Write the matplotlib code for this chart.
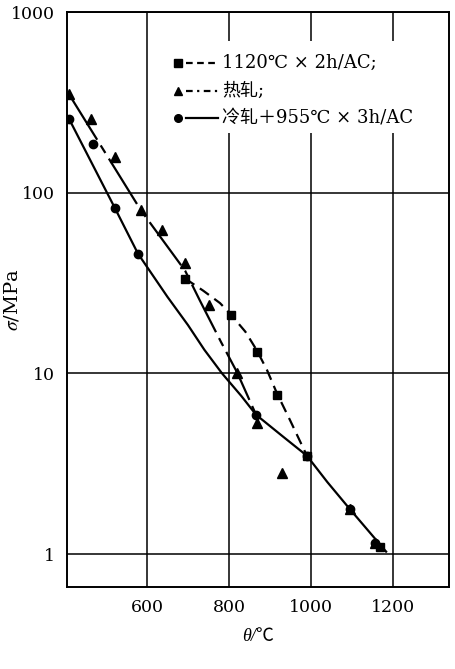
import numpy as np
import matplotlib
matplotlib.use("Agg")
import matplotlib.pyplot as plt

matplotlib.rcParams.update(
    {
        'font.family': ['DejaVu Serif', 'Noto Sans CJK SC'],
        'mathtext.fontset': 'stix',
    }
)

# measured points
sq_T = [693, 805, 868, 917, 990, 1168]
sq_s = [33.5, 21, 13.1, 7.6, 3.5, 1.1]

tri_T = [410, 463, 522, 585, 637, 693, 751, 820, 868, 929, 1095, 1156]
tri_s = [350, 256, 158, 80, 62, 41, 23.8, 10.1, 5.3, 2.8, 1.77, 1.15]

cir_T = [410, 468, 522, 578, 866, 990, 1095, 1156]
cir_s = [256, 187, 82, 46, 5.9, 3.5, 1.77, 1.15]

# fitted curves
sq_curve_T = [693, 737, 778, 802, 840, 868, 893, 917, 949, 990]
sq_curve_s = [33.5, 28.7, 24.5, 21.5, 17, 13.4, 10.4, 7.75, 5.5, 3.5]

tri_curve_T = [410, 585, 693, 729, 780, 820, 866]
tri_curve_s = [350, 80, 37, 25.3, 15, 10.1, 5.9]

cir_curve_T = [410, 522, 578, 610, 650, 700, 740, 783, 830, 866, 930, 990, 1040, 1095, 1185]
cir_curve_s = [256, 82, 46, 36, 26.5, 18.5, 13.5, 10, 7.5, 5.9, 4.5, 3.5, 2.5, 1.77, 1.02]

labels = ['1120℃ × 2h/AC;', '热轧;', '冷轧＋955℃ × 3h/AC']

fig = plt.figure(figsize=(4.56, 6.69), dpi=100)
ax = fig.add_axes([0.147, 0.1226, 0.838, 0.8594])

ax.set_yscale('log')
ax.set_xlim(405, 1337)
ax.set_ylim(0.657, 1000)

ax.plot(cir_curve_T, cir_curve_s, color='black', lw=1.6, solid_capstyle='butt')
ln, = ax.plot(tri_curve_T, tri_curve_s, color='black', lw=1.6)
ln.set_dashes([24, 3, 4, 3])
ln2, = ax.plot(sq_curve_T, sq_curve_s, color='black', lw=1.6)
ln2.set_dashes([5, 3])

ax.plot(sq_T, sq_s, 's', color='black', ms=6, ls='none')
ax.plot(tri_T, tri_s, '^', color='black', ms=6.5, ls='none')
ax.plot(cir_T, cir_s, 'o', color='black', ms=6, ls='none')

ax.set_xticks([600, 800, 1000, 1200])
ax.set_yticks([1, 10, 100, 1000])
ax.set_yticklabels(['1', '10', '100', '1000'])
ax.minorticks_off()
ax.tick_params(length=0, labelsize=12.5, pad=9)
ax.grid(True, color='black', lw=1.1)
for s in ax.spines.values():
    s.set_linewidth(1.4)

ax.set_xlabel('θ/℃', fontsize=13, labelpad=8, style='italic',
              family=['Liberation Serif', 'Noto Sans CJK SC'])
ax.set_ylabel(r'$\sigma$/MPa', fontsize=14)
ax.yaxis.set_label_coords(-0.118, 0.5)

# legend box (white, no frame)
ax.add_patch(plt.Rectangle((0.255, 0.79), 0.73, 0.16, transform=ax.transAxes,
                           facecolor='white', edgecolor='none', zorder=3))
styles = [('s', [3, 2]), ('^', [3, 2, 1, 2]), ('o', None)]
rows = [0.911, 0.863, 0.816]
for (m, d), y, lab in zip(styles, rows, labels):
    ax.plot([0.29], [y], m, color='black', ms=5.5, transform=ax.transAxes, zorder=4)
    l, = ax.plot([0.312, 0.395], [y, y], color='black', lw=1.6, transform=ax.transAxes, zorder=4)
    if d:
        l.set_dashes(d)
    ax.text(0.406, y, lab, transform=ax.transAxes, va='center', ha='left',
            fontsize=13, zorder=4)

fig.savefig('out.png', dpi=100)
